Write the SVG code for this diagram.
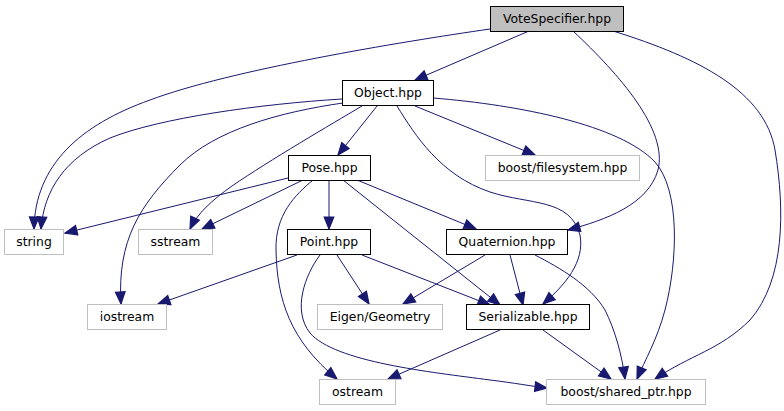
<svg xmlns="http://www.w3.org/2000/svg" width="784" height="411" viewBox="0 0 784 411">
<style>
.n rect{fill:#fff;stroke:#000;stroke-width:1}
.n.g rect{stroke:#bfbfbf}
.n.root rect{fill:#bfbfbf}
.n text{font-family:"DejaVu Sans","Liberation Sans",sans-serif;font-size:12.4px;text-anchor:middle;fill:#000}
.e path{fill:none;stroke:#191970;stroke-width:1;marker-end:url(#ah)}
</style>
<defs>
<marker id="ah" markerUnits="userSpaceOnUse" markerWidth="12" markerHeight="10" refX="10" refY="4" orient="auto" viewBox="0 0 10 8" overflow="visible">
<path d="M0,0 L10,4 L0,8 z" fill="#191970" stroke="#191970" stroke-width="1"/>
</marker>
</defs>
<rect width="784" height="411" fill="#fff"/>
<g id="edges" class="e">
<path d="M529,31 L415,80"/>
<path d="M490,29 C400,42 230,70 150,100 C80,125 35,165 34,229"/>
<path d="M342,99 C260,104 160,118 110,138 C65,158 44,190 41,229"/>
<path d="M343,103 C280,112 215,130 180,165 C140,205 117,240 121,304"/>
<path d="M362,106 C330,125 270,160 232,186 C212,200 197,214 190,229"/>
<path d="M377,106 L338,155"/>
<path d="M415,106 L535,155"/>
<path d="M397,106 C415,135 440,175 490,192 C530,205 570,198 580,235 C585,262 565,285 543,304"/>
<path d="M433,98 C520,105 620,125 655,162 C680,190 678,260 665,310 C657,340 645,360 637,379"/>
<path d="M613,31 C700,58 765,92 775,150 C785,210 785,280 750,320 C720,350 690,355 655,379"/>
<path d="M573,31 C620,75 668,130 658,170 C648,205 605,220 568,230"/>
<path d="M288,178 L65,233"/>
<path d="M303,180 L202,229"/>
<path d="M329,180 L329,229"/>
<path d="M357,180 L476,229"/>
<path d="M343,180 L500,305"/>
<path d="M313,180 C295,195 275,215 276,250 C277,300 290,340 337,379"/>
<path d="M297,255 L158,304"/>
<path d="M337,255 L369,304"/>
<path d="M362,255 L490,305"/>
<path d="M320,255 C305,275 292,310 310,333 C335,362 430,372 490,380 C515,383 530,386 547,388"/>
<path d="M485,255 L403,304"/>
<path d="M510,255 L523,305"/>
<path d="M535,255 C560,268 590,285 605,310 C615,330 622,355 625,379"/>
<path d="M500,330 L388,379"/>
<path d="M543,330 L611,379"/>
</g>
<g id="VoteSpecifier" class="n root"><rect x="490.5" y="6.5" width="133" height="25"/><text x="557" y="23">VoteSpecifier.hpp</text></g>
<g id="Object" class="n"><rect x="342.5" y="80.5" width="91" height="25"/><text x="388" y="97">Object.hpp</text></g>
<g id="Pose" class="n"><rect x="288.5" y="155.5" width="82" height="25"/><text x="329.5" y="172">Pose.hpp</text></g>
<g id="filesystem" class="n g"><rect x="485.5" y="155.5" width="154" height="25"/><text x="562.5" y="172">boost/filesystem.hpp</text></g>
<g id="string" class="n g"><rect x="4.5" y="229.5" width="59" height="25"/><text x="34" y="246">string</text></g>
<g id="sstream" class="n g"><rect x="138.5" y="229.5" width="74" height="25"/><text x="175.5" y="246">sstream</text></g>
<g id="Point" class="n"><rect x="287.5" y="229.5" width="83" height="25"/><text x="329" y="246">Point.hpp</text></g>
<g id="Quaternion" class="n"><rect x="446.5" y="229.5" width="121" height="25"/><text x="507" y="246">Quaternion.hpp</text></g>
<g id="iostream" class="n g"><rect x="87.5" y="304.5" width="79" height="25"/><text x="127" y="321">iostream</text></g>
<g id="Eigen" class="n g"><rect x="317.5" y="304.5" width="125" height="25"/><text x="380" y="321">Eigen/Geometry</text></g>
<g id="Serializable" class="n"><rect x="466.5" y="304.5" width="123" height="25"/><text x="528" y="321">Serializable.hpp</text></g>
<g id="ostream" class="n g"><rect x="319.5" y="379.5" width="76" height="25"/><text x="357.5" y="396">ostream</text></g>
<g id="shared_ptr" class="n g"><rect x="546.5" y="379.5" width="159" height="25"/><text x="626" y="396">boost/shared_ptr.hpp</text></g>
</svg>
